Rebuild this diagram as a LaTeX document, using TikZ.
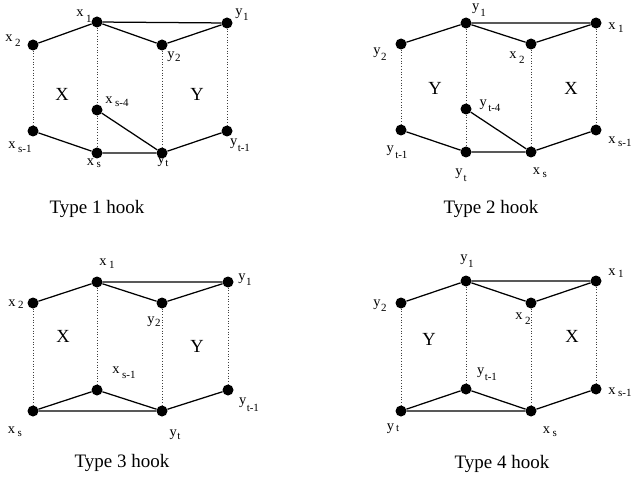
\documentclass[tikz,border=0pt]{standalone}
\usepackage{fontspec}
\setmainfont{Liberation Serif}
\newcommand{\subt}[2]{\raisebox{-#1}{\fontsize{11}{11}\selectfont #2}}
\newcommand{\lb}[3][4pt]{#2\kern2.5pt\subt{#1}{#3}}
\begin{document}
\begin{tikzpicture}[x=1pt,y=-1pt,
  vtx/.style={circle,fill=black,inner sep=0pt,minimum size=11pt},
  edge/.style={line width=1.25pt},
  dotline/.style={line width=0.75pt,dotted,black!75},
  lab/.style={inner sep=0pt,font=\fontsize{14.5}{14.5}\selectfont},
  big/.style={inner sep=0pt,font=\fontsize{18.5}{18.5}\selectfont},
  captext/.style={inner sep=0pt,anchor=base,font=\fontsize{19}{19}\selectfont}]
\useasboundingbox (0,0) rectangle (634,481);

% ---------------- Type 1 ----------------
\node[vtx] (a-x1) at (97,22) {};
\node[vtx] (a-x2) at (33,45) {};
\node[vtx] (a-y2) at (162,45) {};
\node[vtx] (a-y1) at (227,23) {};
\node[vtx] (a-xs4) at (97,110) {};
\node[vtx] (a-xs1) at (33,131) {};
\node[vtx] (a-xs) at (97,153) {};
\node[vtx] (a-yt) at (162,153) {};
\node[vtx] (a-yt1) at (227,131) {};
\draw[edge] (a-x2) -- (a-x1) -- (a-y1) -- (a-y2) -- (a-x1);
\draw[edge] (a-xs1) -- (a-xs) -- (a-yt) -- (a-yt1);
\draw[edge] (a-xs4) -- (a-yt);
\draw[dotline] (a-x2) -- (a-xs1);
\draw[dotline] (a-x1) -- (a-xs4);
\draw[dotline] (a-xs4) -- (a-xs);
\draw[dotline] (a-y2) -- (a-yt);
\draw[dotline] (a-y1) -- (a-yt1);
\node[lab] (a-lx1) at (84,16) {\lb[6pt]{x}{1}};
\node[lab] (a-lx2) at (13,41) {\lb[5pt]{x}{2}};
\node[lab] (a-ly2) at (174,57) {y\kern0.5pt\subt{3pt}{2}};
\node[lab] (a-ly1) at (242,15) {y\kern0.5pt\subt{5pt}{1}};
\node[lab] (a-lxs4) at (117,102) {\lb[3pt]{x}{s-4}};
\node[lab] (a-lxs1) at (20,147) {\lb[4pt]{x}{s-1}};
\node[lab] (a-lxs) at (94,163) {\lb[2pt]{x}{s}};
\node[lab] (a-lyt) at (163,162) {y\kern0.5pt\subt{3pt}{t}};
\node[lab] (a-lyt1) at (240,145) {y\kern0.5pt\subt{6pt}{t-1}};
\node[big] (a-X) at (62,94) {X};
\node[big] (a-Y) at (197,94) {Y};
\node[captext] (a-cap) at (97,213) {Type 1 hook};

% ---------------- Type 2 ----------------
\node[vtx] (b-y2) at (401,44) {};
\node[vtx] (b-y1) at (466,23) {};
\node[vtx] (b-x2) at (531,44) {};
\node[vtx] (b-x1) at (596,23) {};
\node[vtx] (b-yt4) at (466,109) {};
\node[vtx] (b-yt1) at (401,130) {};
\node[vtx] (b-yt) at (466,152) {};
\node[vtx] (b-xs) at (531,152) {};
\node[vtx] (b-xs1) at (596,130) {};
\draw[edge] (b-y2) -- (b-y1) -- (b-x1) -- (b-x2) -- (b-y1);
\draw[edge] (b-yt1) -- (b-yt) -- (b-xs) -- (b-xs1);
\draw[edge] (b-yt4) -- (b-xs);
\draw[dotline] (b-y2) -- (b-yt1);
\draw[dotline] (b-y1) -- (b-yt4);
\draw[dotline] (b-yt4) -- (b-yt);
\draw[dotline] (b-x2) -- (b-xs);
\draw[dotline] (b-x1) -- (b-xs1);
\node[lab] (b-ly1) at (479,10) {y\kern1pt\subt{6pt}{1}};
\node[lab] (b-lx1) at (616,28) {\lb[3pt]{x}{1}};
\node[lab] (b-ly2) at (380,54) {y\kern0.5pt\subt{6pt}{2}};
\node[lab] (b-lx2) at (517,58) {\lb[5pt]{x}{2}};
\node[lab] (b-lyt4) at (490,106) {y\kern1.5pt\subt{5pt}{t-4}};
\node[lab] (b-lyt1) at (397,152) {y\kern1.5pt\subt{6pt}{t-1}};
\node[lab] (b-lyt) at (461,175) {y\kern1pt\subt{6pt}{t}};
\node[lab] (b-lxs) at (540,173) {\lb[3pt]{x}{s}};
\node[lab] (b-lxs1) at (620,142) {\lb[3pt]{x}{s-1}};
\node[big] (b-Y) at (435,88) {Y};
\node[big] (b-X) at (571,88) {X};
\node[captext] (b-cap) at (491,213) {Type 2 hook};

% ---------------- Type 3 ----------------
\node[vtx] (c-x1) at (97,282) {};
\node[vtx] (c-x2) at (33,303) {};
\node[vtx] (c-y2) at (162,303) {};
\node[vtx] (c-y1) at (228,282) {};
\node[vtx] (c-xs1) at (97,390) {};
\node[vtx] (c-xs) at (33,411) {};
\node[vtx] (c-yt) at (162,411) {};
\node[vtx] (c-yt1) at (228,390) {};
\draw[edge] (c-x2) -- (c-x1) -- (c-y1) -- (c-y2) -- (c-x1);
\draw[edge] (c-xs) -- (c-xs1) -- (c-yt) -- (c-xs);
\draw[edge] (c-yt) -- (c-yt1);
\draw[dotline] (c-x2) -- (c-xs);
\draw[dotline] (c-x1) -- (c-xs1);
\draw[dotline] (c-y2) -- (c-yt);
\draw[dotline] (c-y1) -- (c-yt1);
\node[lab] (c-lx1) at (107,264) {\lb[3pt]{x}{1}};
\node[lab] (c-lx2) at (16,304) {\lb[2pt]{x}{2}};
\node[lab] (c-ly2) at (154,322) {y\kern0.5pt\subt{3pt}{2}};
\node[lab] (c-ly1) at (245,280) {y\kern0.5pt\subt{5pt}{1}};
\node[lab] (c-lxs1) at (124,373) {\lb[5pt]{x}{s-1}};
\node[lab] (c-lxs) at (15,432) {\lb[3pt]{x}{s}};
\node[lab] (c-lyt) at (175,435) {y\kern0.5pt\subt{3pt}{t}};
\node[lab] (c-lyt1) at (249,405) {y\kern0.5pt\subt{7pt}{t-1}};
\node[big] (c-X) at (63,336) {X};
\node[big] (c-Y) at (197,346) {Y};
\node[captext] (c-cap) at (122,467) {Type 3 hook};

% ---------------- Type 4 ----------------
\node[vtx] (d-y1) at (466,281) {};
\node[vtx] (d-y2) at (401,303) {};
\node[vtx] (d-x2) at (531,303) {};
\node[vtx] (d-x1) at (596,281) {};
\node[vtx] (d-yt1) at (466,389) {};
\node[vtx] (d-yt) at (401,411) {};
\node[vtx] (d-xs) at (531,411) {};
\node[vtx] (d-xs1) at (596,389) {};
\draw[edge] (d-y2) -- (d-y1) -- (d-x1) -- (d-x2) -- (d-y1);
\draw[edge] (d-yt) -- (d-yt1) -- (d-xs) -- (d-yt);
\draw[edge] (d-xs) -- (d-xs1);
\draw[dotline] (d-y2) -- (d-yt);
\draw[dotline] (d-y1) -- (d-yt1);
\draw[dotline] (d-x2) -- (d-xs);
\draw[dotline] (d-x1) -- (d-xs1);
\node[lab] (d-ly1) at (467,261) {y\kern0.5pt\subt{6pt}{1}};
\node[lab] (d-lx1) at (616,273) {\lb[2pt]{x}{1}};
\node[lab] (d-ly2) at (380,306) {y\kern0.5pt\subt{5pt}{2}};
\node[lab] (d-lx2) at (523,319) {\lb[5pt]{x}{2}};
\node[lab] (d-lyt1) at (487,374) {y\kern0.5pt\subt{6pt}{t-1}};
\node[lab] (d-lyt) at (393,429) {y\kern2pt\subt{1pt}{t}};
\node[lab] (d-lxs) at (550,432) {\lb[3pt]{x}{s}};
\node[lab] (d-lxs1) at (620,392) {\lb[2pt]{x}{s-1}};
\node[big] (d-Y) at (429,339) {Y};
\node[big] (d-X) at (572,336) {X};
\node[captext] (d-cap) at (502,468) {Type 4 hook};
\end{tikzpicture}
\end{document}
